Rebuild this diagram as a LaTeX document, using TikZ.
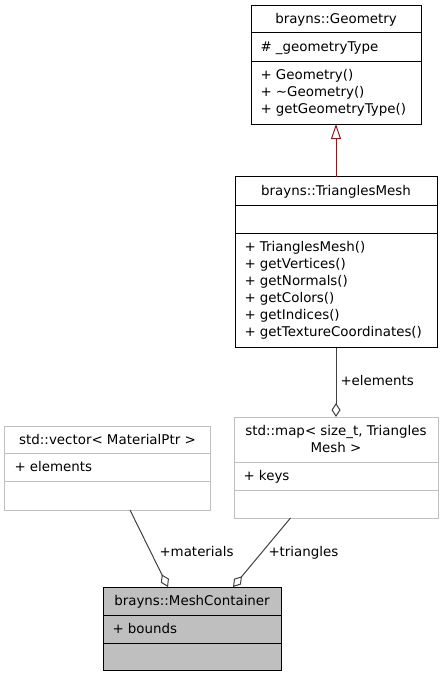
\documentclass[tikz,border=0pt]{standalone}
\usepackage{fontspec}
\setmainfont{DejaVu Sans}
\usetikzlibrary{arrows.meta}
\definecolor{edgegray}{HTML}{404040}
\definecolor{inhred}{HTML}{8B1A1A}
\definecolor{greyseventyfive}{HTML}{BFBFBF}
\begin{document}
\begin{tikzpicture}[x=1bp,y=-1bp,
  every node/.style={font=\fontsize{13.4bp}{16bp}\selectfont, inner sep=0pt, outer sep=0pt},
  box/.style={draw=black, line width=1bp, fill=white},
  gbox/.style={draw=greyseventyfive, line width=1bp, fill=white},
  mbox/.style={draw=black, line width=1bp, fill=greyseventyfive},
  title/.style={anchor=base},
  member/.style={anchor=base west},
  sep/.style={line width=1bp, draw=black},
  gsep/.style={line width=1bp, draw=greyseventyfive},
  aggr/.style={draw=edgegray, line width=1bp, -{Diamond[open, length=14bp, width=9bp, line width=1bp]}},
  inh/.style={draw=inhred, line width=1bp, -{Triangle[open, length=15bp, width=10bp, line width=1bp]}},
  elabel/.style={anchor=base west}
]
\useasboundingbox (0,0) rectangle (443,677);

% brayns::Geometry
\node[box, minimum width=170bp, minimum height=118bp] (geo) at (336,65) {};
\draw[sep] (251,33) -- (421,33);
\draw[sep] (251,61.5) -- (421,61.5);
\node[title] (geot) at (336,24) {brayns::Geometry};
\node[member] (geoa) at (260.5,51.5) {\# \_geometryType};
\node[member] (geom1) at (260.5,79.3) {+ Geometry()};
\node[member] (geom2) at (260.5,96.5) {+ \char"223C Geometry()};
\node[member] (geom3) at (260.5,113.7) {+ getGeometryType()};

% brayns::TrianglesMesh
\node[box, minimum width=202bp, minimum height=170.5bp] (tm) at (336,262.25) {};
\draw[sep] (235,205) -- (437,205);
\draw[sep] (235,233.3) -- (437,233.3);
\node[title] (tmt) at (336,195) {brayns::TrianglesMesh};
\node[member] (tm1) at (244.5,251) {+ TrianglesMesh()};
\node[member] (tm2) at (244.5,268.1) {+ getVertices()};
\node[member] (tm3) at (244.5,285.2) {+ getNormals()};
\node[member] (tm4) at (244.5,302.3) {+ getColors()};
\node[member] (tm5) at (244.5,319.4) {+ getIndices()};
\node[member] (tm6) at (244.5,336.5) {+ getTextureCoordinates()};

% std::map
\node[gbox, minimum width=204bp, minimum height=101bp] (map) at (336,467.5) {};
\draw[gsep] (234,462) -- (438,462);
\draw[gsep] (234,490) -- (438,490);
\node[title] (mapt1) at (336,435) {std::map< size\_t, Triangles};
\node[title] (mapt2) at (336,452) {Mesh >};
\node[member] (mapa) at (243.5,480) {+ keys};

% std::vector
\node[gbox, minimum width=205bp, minimum height=84bp] (vec) at (107.5,468) {};
\draw[gsep] (5,453) -- (210,453);
\draw[gsep] (5,481) -- (210,481);
\node[title] (vect) at (107.5,444) {std::vector< MaterialPtr >};
\node[member] (veca) at (14.5,471) {+ elements};

% brayns::MeshContainer
\node[mbox, minimum width=178bp, minimum height=83.5bp] (mc) at (192,628.75) {};
\draw[sep] (103,615.5) -- (281,615.5);
\draw[sep] (103,643) -- (281,643);
\node[title] (mct) at (192,605) {brayns::MeshContainer};
\node[member] (mca) at (112.5,633) {+ bounds};

% connectors
\draw[inh] (tm.north) -- (geo.south);
\draw[aggr] (tm.south) -- (map.north);
\node[elabel] (lel) at (340.5,385.7) {+elements};
\draw[aggr] ([xshift=22.5bp]vec.south) -- ([xshift=-24bp]mc.north);
\node[elabel] (lmat) at (159.5,556.7) {+materials};
\draw[aggr] ([xshift=-45.5bp]map.south) -- ([xshift=41bp]mc.north);
\node[elabel] (ltri) at (268.5,556.7) {+triangles};
\end{tikzpicture}
\end{document}
